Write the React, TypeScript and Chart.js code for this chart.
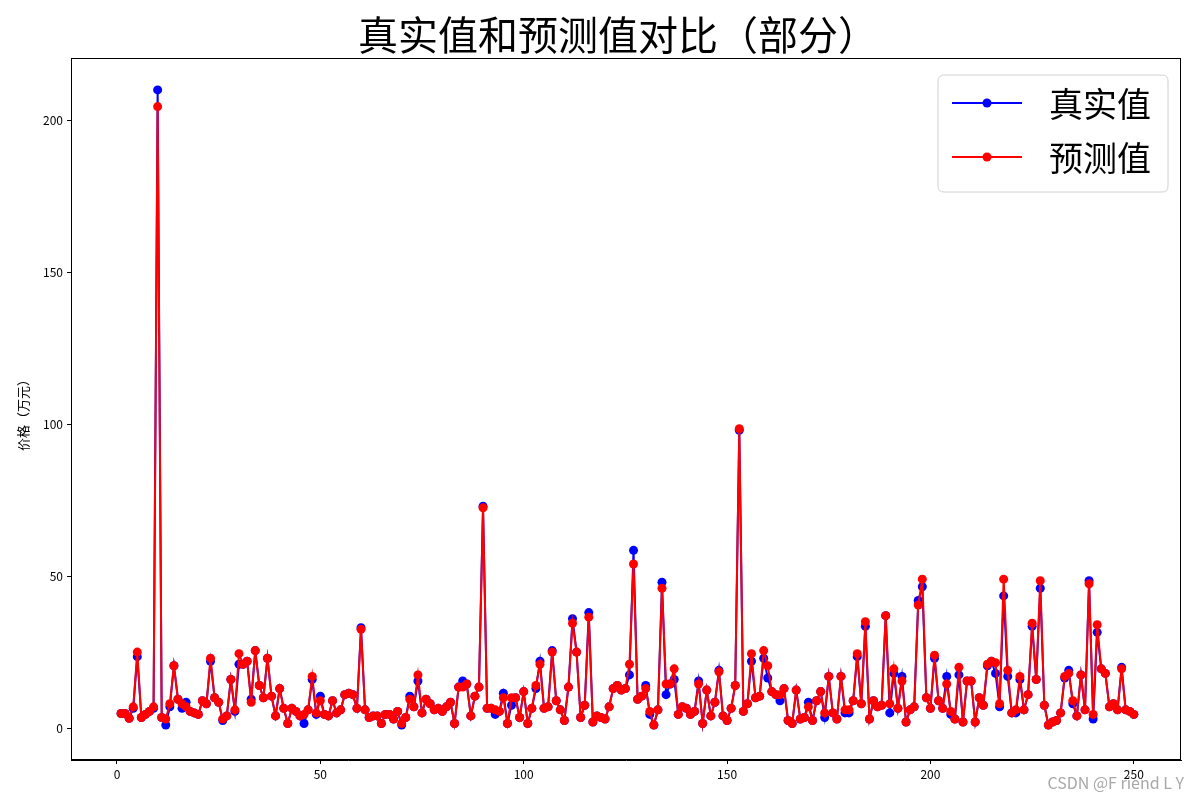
import React, { useEffect, useRef } from "react";
import { Chart, registerables } from "chart.js";

Chart.register(...registerables);

const trueValues: number[] = [
  4.8, 4.8, 3.2, 6.5, 23.5, 3.5, 4.5, 5.5, 6.5, 210,
  3.5, 1, 7, 20.5, 9.5, 6.5, 8.5, 5.5, 5, 4.5,
  9, 8, 22, 10, 8.5, 2.5, 4, 16, 5.5, 21,
  21, 22, 9.5, 25.5, 14, 10, 23, 10.5, 4, 13,
  6.5, 1.5, 6.5, 5.5, 4, 1.5, 6, 16, 4.5, 10.5,
  4.5, 4, 9, 5, 6, 11, 11.5, 11, 6.5, 33,
  6, 3.5, 4, 4, 1.5, 4.5, 4.5, 3, 5.5, 1,
  3.5, 10.5, 7, 15.5, 5, 9.5, 8, 6, 6.5, 5.5,
  7, 8.5, 1.5, 13.5, 15.5, 14.5, 4, 10.5, 13.5, 73,
  6.5, 6.5, 4.5, 5.5, 11.5, 1.5, 7.5, 10, 3.5, 12,
  1.5, 6.5, 13, 22, 6.5, 7, 25.5, 9, 6, 2.5,
  13.5, 36, 25, 3.5, 7.5, 38, 2, 4, 3.5, 3,
  7, 13, 14, 12.5, 13, 17.5, 58.5, 9.5, 10.5, 14,
  4.5, 1, 6, 48, 11, 14.5, 16, 4.5, 7, 6.5,
  4.5, 5.5, 15.5, 1.5, 12.5, 4, 8.5, 19, 4, 2.5,
  6.5, 14, 98, 5.5, 8, 22, 10, 10.5, 23, 16.5,
  12, 11, 9, 13, 2.5, 1.5, 12.5, 3, 3.5, 8.5,
  2.5, 9, 12, 3.5, 17, 5, 3, 17, 5, 5,
  9, 23.5, 8, 33.5, 3, 9, 7, 7.5, 37, 5,
  18, 6.5, 17, 2, 6, 7, 42, 46.5, 10, 6.5,
  23, 9, 6.5, 17, 4.5, 3, 17.5, 2, 15.5, 15.5,
  2, 10, 7.5, 20.5, 22, 18, 7, 43.5, 17, 5,
  5, 16, 6, 11, 33.5, 16, 46, 7.5, 1, 2,
  2.5, 5, 16.5, 19, 8, 4, 17.5, 6, 48.5, 3,
  31.5, 19.5, 18, 7, 8, 6, 20, 6, 5.5, 4.5,
];

const predValues: number[] = [
  4.8, 4.8, 3.2, 7, 25, 3.5, 4.5, 5.5, 7, 204.5,
  3.5, 3, 8, 20.5, 9.5, 8, 7, 5.5, 5, 4.5,
  9, 8, 23, 10, 8.5, 3, 4, 16, 6, 24.5,
  21, 22, 8.5, 25.5, 14, 10, 23, 10.5, 4, 13,
  6.5, 1.5, 6.5, 5.5, 4, 4.5, 6, 17, 5, 9,
  4.5, 4, 9, 5, 6, 11, 11.5, 11, 6.5, 32.5,
  6, 3.5, 4, 4, 1.5, 4.5, 4.5, 3, 5.5, 1.5,
  3.5, 9.5, 7, 17.5, 5, 9.5, 8, 6, 6.5, 5.5,
  7, 8.5, 1.5, 13.5, 13.5, 14.5, 4, 10.5, 13.5, 72.5,
  6.5, 6.5, 6, 5.5, 10, 1.5, 10, 10, 3.5, 12,
  1.5, 6.5, 14, 21, 6.5, 7, 25, 9, 6, 2.5,
  13.5, 34.5, 25, 3.5, 7.5, 36.5, 2, 4, 3.5, 3,
  7, 13, 14, 12.5, 13, 21, 54, 9.5, 10.5, 13,
  5.5, 1, 6, 46, 14.5, 14.5, 19.5, 4.5, 7, 6.5,
  4.5, 5.5, 14.5, 1.5, 12.5, 4, 8.5, 18.5, 4, 2.5,
  6.5, 14, 98.5, 5.5, 8, 24.5, 10, 10.5, 25.5, 20.5,
  12, 11, 11, 13, 2.5, 1.5, 12.5, 3, 3.5, 7,
  2.5, 9, 12, 5, 17, 5, 3, 17, 6, 6,
  9, 24.5, 8, 35, 3, 9, 7, 7.5, 37, 8,
  19.5, 6.5, 15.5, 2, 6, 7, 40.5, 49, 10, 6.5,
  24, 9, 6.5, 14.5, 5.5, 3, 20, 2, 15.5, 15.5,
  2, 10, 7.5, 21, 22, 21.5, 8, 49, 19, 5,
  6, 17, 6, 11, 34.5, 16, 48.5, 7.5, 1, 2,
  2.5, 5, 17, 18, 9, 4, 17.5, 6, 47.5, 4.5,
  34, 19.5, 18, 7, 8, 6, 19.5, 6, 5.5, 4.5,
];

const xTicks: number[] = [0, 50, 100, 150, 200, 250];
const yTicks: number[] = [0, 50, 100, 150, 200];
const seriesLabels: string[] = ["真实值", "预测值"];
const seriesColors: string[] = ["#0000ff", "#ff0000"];
const titleText = "真实值和预测值对比（部分）";
const yLabelText = "价格（万元）";
const watermarkText = "CSDN @F riend L Y";

const CJK = '"Noto Sans CJK SC", "DejaVu Sans", sans-serif';

const decorPlugin = {
  id: "decor",
  afterDraw(chart: any) {
    const { ctx, chartArea } = chart;
    const { left, right, top, bottom } = chartArea;
    ctx.save();
    // frame
    ctx.strokeStyle = "#000";
    ctx.lineWidth = 1;
    ctx.strokeRect(left + 0.5, top + 0.5, right - left - 1, bottom - top - 1);
    // title
    ctx.fillStyle = "#000";
    ctx.font = `40px ${CJK}`;
    ctx.textAlign = "center";
    ctx.textBaseline = "alphabetic";
    ctx.fillText(titleText, 618, 50);
    // y label
    ctx.save();
    ctx.translate(23, (top + bottom) / 2 + 3);
    ctx.rotate(-Math.PI / 2);
    ctx.font = `13px ${CJK}`;
    ctx.textAlign = "center";
    ctx.textBaseline = "middle";
    ctx.fillText(yLabelText, 0, 0);
    ctx.restore();
    // legend
    const lx = 938, ly = 75, lw = 230, lh = 117, r = 6;
    ctx.beginPath();
    ctx.moveTo(lx + r, ly);
    ctx.lineTo(lx + lw - r, ly);
    ctx.quadraticCurveTo(lx + lw, ly, lx + lw, ly + r);
    ctx.lineTo(lx + lw, ly + lh - r);
    ctx.quadraticCurveTo(lx + lw, ly + lh, lx + lw - r, ly + lh);
    ctx.lineTo(lx + r, ly + lh);
    ctx.quadraticCurveTo(lx, ly + lh, lx, ly + lh - r);
    ctx.lineTo(lx, ly + r);
    ctx.quadraticCurveTo(lx, ly, lx + r, ly);
    ctx.closePath();
    ctx.fillStyle = "rgba(255,255,255,0.85)";
    ctx.fill();
    ctx.strokeStyle = "#d0d0d0";
    ctx.lineWidth = 1;
    ctx.stroke();
    const rows = [103, 157];
    seriesLabels.forEach((lab, i) => {
      const y = rows[i];
      ctx.strokeStyle = seriesColors[i];
      ctx.lineWidth = 2;
      ctx.beginPath();
      ctx.moveTo(952, y);
      ctx.lineTo(1022, y);
      ctx.stroke();
      ctx.fillStyle = seriesColors[i];
      ctx.beginPath();
      ctx.arc(987, y, 4.5, 0, Math.PI * 2);
      ctx.fill();
      ctx.fillStyle = "#000";
      ctx.font = `34px ${CJK}`;
      ctx.textAlign = "left";
      ctx.textBaseline = "middle";
      ctx.fillText(lab, 1049, y + 1);
    });
    // watermark
    ctx.font = `16px ${CJK}`;
    ctx.textAlign = "right";
    ctx.textBaseline = "alphabetic";
    ctx.fillStyle = "rgba(255,255,255,0.9)";
    ctx.fillText(watermarkText, 1185, 790);
    ctx.fillStyle = "#a8a8a8";
    ctx.fillText(watermarkText, 1184, 789);
    ctx.restore();
  },
};

export default function App() {
  const ref = useRef<HTMLCanvasElement>(null);
  useEffect(() => {
    if (!ref.current) return;
    const idx = trueValues.map((_, i) => i + 1);
    const chart = new Chart(ref.current, {
      type: "line",
      data: {
        datasets: [
          {
            label: seriesLabels[0],
            data: idx.map((x, i) => ({ x, y: trueValues[i] })),
            borderColor: seriesColors[0],
            backgroundColor: seriesColors[0],
            borderWidth: 2,
            pointRadius: 4.5,
            pointBorderWidth: 0,
            pointHoverRadius: 4.5,
            order: 2,
          },
          {
            label: seriesLabels[1],
            data: idx.map((x, i) => ({ x, y: predValues[i] })),
            borderColor: seriesColors[1],
            backgroundColor: seriesColors[1],
            borderWidth: 2,
            pointRadius: 4.5,
            pointBorderWidth: 0,
            pointHoverRadius: 4.5,
            order: 1,
          },
        ],
      },
      options: {
        animation: false,
        responsive: false,
        events: [],
        layout: { padding: { left: 0, right: 19, top: 58, bottom: 0 } },
        plugins: { legend: { display: false }, tooltip: { enabled: false }, title: { display: false } },
        scales: {
          x: {
            type: "linear",
            min: -11.3,
            max: 261.6,
            afterFit: (s: any) => { s.height = 40; },
            afterBuildTicks: (s: any) => { s.ticks = xTicks.map((v) => ({ value: v })); },
            grid: { display: true, drawOnChartArea: false, drawTicks: true, tickLength: 4, color: "#000" },
            border: { display: true, color: "#000" },
            ticks: { color: "#000", font: { family: CJK, size: 12 }, padding: 3, maxRotation: 0, autoSkip: false },
          },
          y: {
            type: "linear",
            min: -10.5,
            max: 220.5,
            afterFit: (s: any) => { s.width = 71; },
            afterBuildTicks: (s: any) => { s.ticks = yTicks.map((v) => ({ value: v })); },
            grid: { display: true, drawOnChartArea: false, drawTicks: true, tickLength: 4, color: "#000" },
            border: { display: true, color: "#000" },
            ticks: { color: "#000", font: { family: CJK, size: 12 }, padding: 4, autoSkip: false },
          },
        },
      },
      plugins: [decorPlugin],
    });
    return () => chart.destroy();
  }, []);
  return (
    <div style={{ position: "absolute", left: 0, top: 0, width: 1200, height: 800, background: "#fff" }}>
      <canvas ref={ref} width={1200} height={800} style={{ width: 1200, height: 800 }} />
    </div>
  );
}
